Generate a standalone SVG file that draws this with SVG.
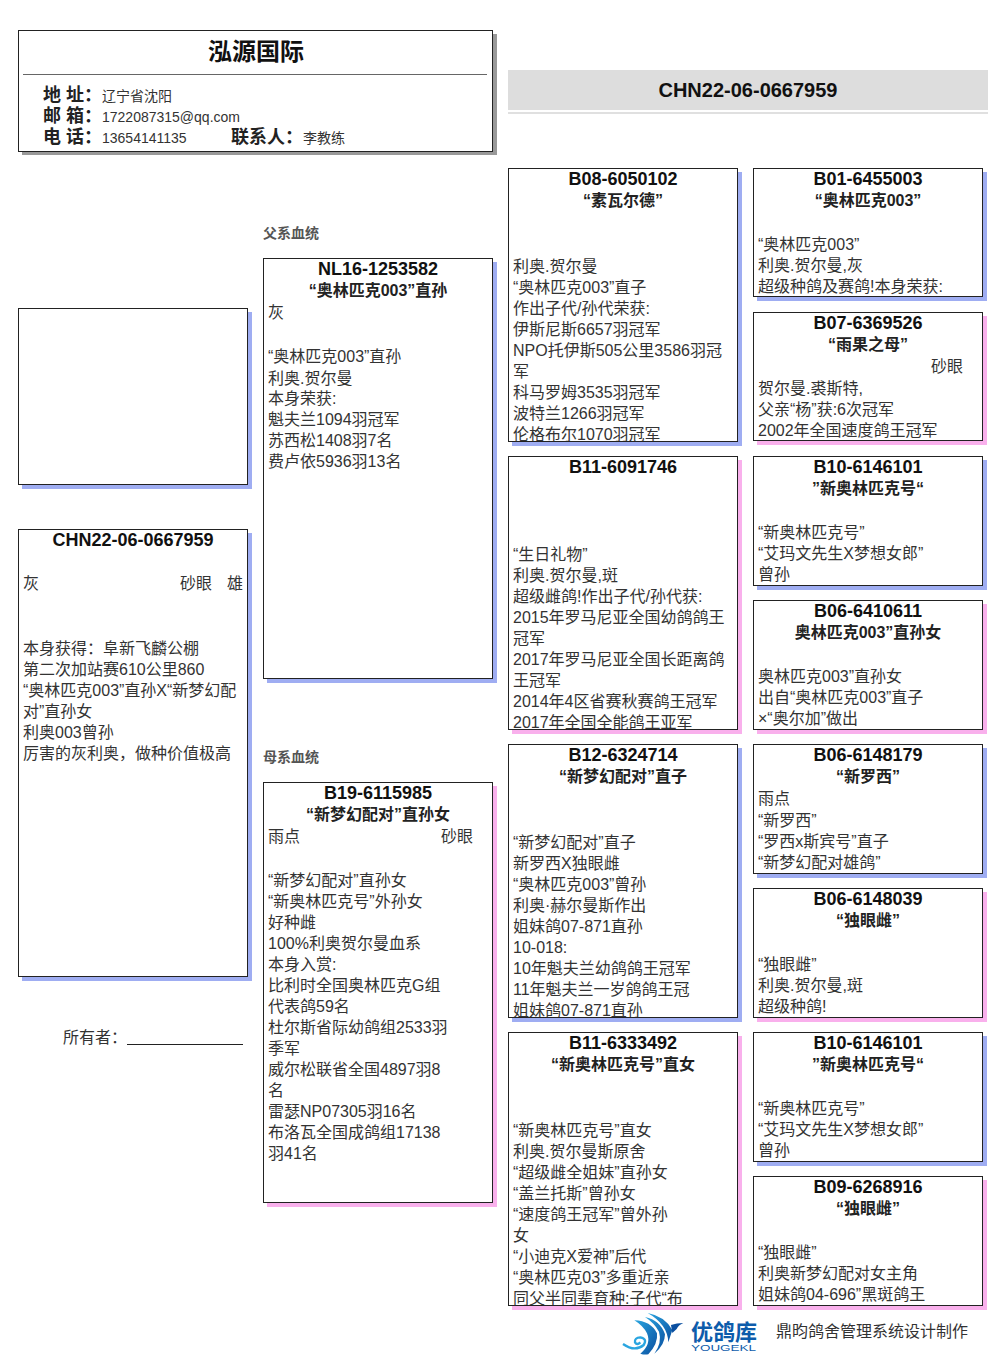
<svg xmlns="http://www.w3.org/2000/svg" width="1006" height="1366" viewBox="0 0 1006 1366">
<style>
text{font-family:"Liberation Sans","Noto Sans CJK SC",sans-serif;fill:#333;font-size:16px}
.t{font-weight:bold;fill:#111;text-anchor:middle;font-size:18px}
.q{font-weight:bold;fill:#222;text-anchor:middle;font-size:16px}
.l{font-weight:bold;fill:#222;font-size:18px}
.s{font-size:14px}
.h{font-size:14px;font-weight:bold;fill:#555}
.b{fill:#fff;stroke:#222;stroke-width:1}
.sb{fill:#9fadf2}.sp{fill:#f9b0ec}
</style>
<defs>
<linearGradient id="g" x1="0" y1="0" x2="1" y2="1"><stop offset="0" stop-color="#2aa5e0"/><stop offset="1" stop-color="#0a4fa0"/></linearGradient>
<clipPath id="c1"><rect x="508" y="168" width="230" height="273"/></clipPath>
<clipPath id="c2"><rect x="508" y="456" width="230" height="273"/></clipPath>
<clipPath id="c3"><rect x="508" y="744" width="230" height="273"/></clipPath>
<clipPath id="c4"><rect x="508" y="1032" width="230" height="273"/></clipPath>
</defs>
<rect width="1006" height="1366" fill="#fff"/>
<g id="header">
<rect x="22" y="34" width="475" height="121" fill="#999"/>
<rect class="b" x="18.500" y="30.500" width="474" height="121"/>
<line x1="23" y1="74.500" x2="487" y2="74.500" stroke="#666"/>
<text x="256" y="60" text-anchor="middle" style="font-size:24px;font-weight:bold;fill:#111">泓源国际</text>
<text class="l" x="43" y="101">地 址：</text><text class="s" x="102" y="101">辽宁省沈阳</text>
<text class="l" x="43" y="122">邮 箱：</text><text class="s" x="102" y="122">1722087315@qq.com</text>
<text class="l" x="43" y="143">电 话：</text><text class="s" x="102" y="143">13654141135</text>
<text class="l" x="231" y="143">联系人：</text><text class="s" x="303" y="143">李教练</text>
</g>
<g id="ring-title">
<rect x="508" y="70" width="480" height="40" fill="#ddd"/>
<rect x="508" y="112" width="480" height="2" fill="#e0e0e0"/>
<text class="t" x="748" y="97" style="font-size:20px">CHN22-06-0667959</text>
</g>
<text class="h" x="263" y="238">父系血统</text>
<text class="h" x="263" y="762">母系血统</text>
<g id="photo"><rect class="sb" x="22" y="312" width="230" height="177"/><rect class="b" x="18.500" y="308.500" width="229" height="176"/></g>
<g id="self"><rect class="sb" x="22" y="533" width="230" height="448"/><rect class="b" x="18.500" y="529.500" width="229" height="447"/>
<text class="t" x="133" y="546">CHN22-06-0667959</text>
<text x="23" y="589">灰</text><text x="180" y="589">砂眼</text><text x="227" y="589">雄</text>
<text x="23" y="654">本身获得：阜新飞麟公棚</text>
<text x="23" y="675">第二次加站赛610公里860</text>
<text x="23" y="696">“奥林匹克003”直孙X“新梦幻配</text>
<text x="23" y="717">对”直孙女</text>
<text x="23" y="738">利奥003曾孙</text>
<text x="23" y="759">厉害的灰利奥，做种价值极高</text>
</g>
<g id="owner"><text x="63" y="1043">所有者：</text><line x1="127" y1="1044.500" x2="243" y2="1044.500" stroke="#222"/></g>
<g id="nl16"><rect class="sb" x="267" y="262" width="230" height="421"/><rect class="b" x="263.500" y="258.500" width="229" height="420"/>
<text class="t" x="378" y="275">NL16-1253582</text><text class="q" x="378" y="296">“奥林匹克003”直孙</text>
<text x="268" y="318">灰</text>
<text x="268" y="362">“奥林匹克003”直孙</text><text x="268" y="384">利奥.贺尔曼</text><text x="268" y="404">本身荣获:</text>
<text x="268" y="425">魁夫兰1094羽冠军</text><text x="268" y="446">苏西松1408羽7名</text><text x="268" y="467">费卢依5936羽13名</text>
</g>
<g id="b19"><rect class="sp" x="267" y="786" width="230" height="421"/><rect class="b" x="263.500" y="782.500" width="229" height="420"/>
<text class="t" x="378" y="799">B19-6115985</text><text class="q" x="378" y="820">“新梦幻配对”直孙女</text>
<text x="268" y="842">雨点</text><text x="441" y="842">砂眼</text>
<text x="268" y="886">“新梦幻配对”直孙女</text><text x="268" y="907">“新奥林匹克号”外孙女</text><text x="268" y="928">好种雌</text>
<text x="268" y="949">100%利奥贺尔曼血系</text><text x="268" y="970">本身入赏:</text><text x="268" y="991">比利时全国奥林匹克G组</text>
<text x="268" y="1012">代表鸽59名</text><text x="268" y="1033">杜尔斯省际幼鸽组2533羽</text><text x="268" y="1054">季军</text>
<text x="268" y="1075">威尔松联省全国4897羽8</text><text x="268" y="1096">名</text><text x="268" y="1117">雷瑟NP07305羽16名</text>
<text x="268" y="1138">布洛瓦全国成鸽组17138</text><text x="268" y="1159">羽41名</text>
</g>
<g id="b08"><rect class="sb" x="512" y="172" width="230" height="274"/><rect class="b" x="508.500" y="168.500" width="229" height="273"/>
<text class="t" x="623" y="185">B08-6050102</text><text class="q" x="623" y="206">“素瓦尔德”</text>
<g clip-path="url(#c1)"><text x="513" y="272">利奥.贺尔曼</text><text x="513" y="293">“奥林匹克003”直子</text><text x="513" y="314">作出子代/孙代荣获:</text>
<text x="513" y="335">伊斯尼斯6657羽冠军</text><text x="513" y="356">NPO托伊斯505公里3586羽冠</text><text x="513" y="377">军</text>
<text x="513" y="398">科马罗姆3535羽冠军</text><text x="513" y="419">波特兰1266羽冠军</text><text x="513" y="440">伦格布尔1070羽冠军</text></g>
</g>
<g id="b11a"><rect class="sp" x="512" y="460" width="230" height="274"/><rect class="b" x="508.500" y="456.500" width="229" height="273"/>
<text class="t" x="623" y="473">B11-6091746</text>
<g clip-path="url(#c2)"><text x="513" y="560">“生日礼物”</text><text x="513" y="581">利奥.贺尔曼,斑</text><text x="513" y="602">超级雌鸽!作出子代/孙代获:</text>
<text x="513" y="623">2015年罗马尼亚全国幼鸽鸽王</text><text x="513" y="644">冠军</text><text x="513" y="665">2017年罗马尼亚全国长距离鸽</text>
<text x="513" y="686">王冠军</text><text x="513" y="707">2014年4区省赛秋赛鸽王冠军</text><text x="513" y="728">2017年全国全能鸽王亚军</text></g>
</g>
<g id="b12"><rect class="sb" x="512" y="748" width="230" height="274"/><rect class="b" x="508.500" y="744.500" width="229" height="273"/>
<text class="t" x="623" y="761">B12-6324714</text><text class="q" x="623" y="782">“新梦幻配对”直子</text>
<g clip-path="url(#c3)"><text x="513" y="848">“新梦幻配对”直子</text><text x="513" y="869">新罗西X独眼雌</text><text x="513" y="890">“奥林匹克003”曾孙</text>
<text x="513" y="911">利奥·赫尔曼斯作出</text><text x="513" y="932">姐妹鸽07-871直孙</text><text x="513" y="953">10-018:</text>
<text x="513" y="974">10年魁夫兰幼鸽鸽王冠军</text><text x="513" y="995">11年魁夫兰一岁鸽鸽王冠</text><text x="513" y="1016">姐妹鸽07-871直孙</text></g>
</g>
<g id="b11b"><rect class="sp" x="512" y="1036" width="230" height="274"/><rect class="b" x="508.500" y="1032.500" width="229" height="273"/>
<text class="t" x="623" y="1049">B11-6333492</text><text class="q" x="623" y="1070">“新奥林匹克号”直女</text>
<g clip-path="url(#c4)"><text x="513" y="1136">“新奥林匹克号”直女</text><text x="513" y="1157">利奥.贺尔曼斯原舍</text><text x="513" y="1178">“超级雌全姐妹”直孙女</text>
<text x="513" y="1199">“盖兰托斯”曾孙女</text><text x="513" y="1220">“速度鸽王冠军”曾外孙</text><text x="513" y="1241">女</text>
<text x="513" y="1262">“小迪克X爱神”后代</text><text x="513" y="1283">“奥林匹克03”多重近亲</text><text x="513" y="1304">同父半同辈育种:子代“布</text></g>
</g>
<g id="b01"><rect class="sb" x="757" y="172" width="230" height="129"/><rect class="b" x="753.500" y="168.500" width="229" height="128"/>
<text class="t" x="868" y="185">B01-6455003</text><text class="q" x="868" y="206">“奥林匹克003”</text>
<text x="758" y="250">“奥林匹克003”</text><text x="758" y="271">利奥.贺尔曼,灰</text><text x="758" y="292">超级种鸽及赛鸽!本身荣获:</text>
</g>
<g id="b07"><rect class="sp" x="757" y="316" width="230" height="129"/><rect class="b" x="753.500" y="312.500" width="229" height="128"/>
<text class="t" x="868" y="329">B07-6369526</text><text class="q" x="868" y="350">“雨果之母”</text>
<text x="931" y="372">砂眼</text><text x="758" y="394">贺尔曼.裘斯特,</text><text x="758" y="415">父亲“杨”获:6次冠军</text><text x="758" y="436">2002年全国速度鸽王冠军</text>
</g>
<g id="b10a"><rect class="sb" x="757" y="460" width="230" height="130"/><rect class="b" x="753.500" y="456.500" width="229" height="129"/>
<text class="t" x="868" y="473">B10-6146101</text><text class="q" x="868" y="494">”新奥林匹克号“</text>
<text x="758" y="538">“新奥林匹克号”</text><text x="758" y="559">“艾玛文先生X梦想女郎”</text><text x="758" y="580">曾孙</text>
</g>
<g id="b06a"><rect class="sp" x="757" y="604" width="230" height="130"/><rect class="b" x="753.500" y="600.500" width="229" height="129"/>
<text class="t" x="868" y="617">B06-6410611</text><text class="q" x="868" y="638">奥林匹克003”直孙女</text>
<text x="758" y="682">奥林匹克003”直孙女</text><text x="758" y="703">出自“奥林匹克003”直子</text><text x="758" y="724">×“奥尔加”做出</text>
</g>
<g id="b06b"><rect class="sb" x="757" y="748" width="230" height="130"/><rect class="b" x="753.500" y="744.500" width="229" height="129"/>
<text class="t" x="868" y="761">B06-6148179</text><text class="q" x="868" y="782">“新罗西”</text>
<text x="758" y="804">雨点</text><text x="758" y="826">“新罗西”</text><text x="758" y="847">“罗西x斯宾号”直子</text><text x="758" y="868">“新梦幻配对雄鸽”</text>
</g>
<g id="b06c"><rect class="sp" x="757" y="892" width="230" height="130"/><rect class="b" x="753.500" y="888.500" width="229" height="129"/>
<text class="t" x="868" y="905">B06-6148039</text><text class="q" x="868" y="926">“独眼雌”</text>
<text x="758" y="970">“独眼雌”</text><text x="758" y="991">利奥.贺尔曼,斑</text><text x="758" y="1012">超级种鸽!</text>
</g>
<g id="b10b"><rect class="sb" x="757" y="1036" width="230" height="130"/><rect class="b" x="753.500" y="1032.500" width="229" height="129"/>
<text class="t" x="868" y="1049">B10-6146101</text><text class="q" x="868" y="1070">”新奥林匹克号“</text>
<text x="758" y="1114">“新奥林匹克号”</text><text x="758" y="1135">“艾玛文先生X梦想女郎”</text><text x="758" y="1156">曾孙</text>
</g>
<g id="b09"><rect class="sp" x="757" y="1180" width="230" height="130"/><rect class="b" x="753.500" y="1176.500" width="229" height="129"/>
<text class="t" x="868" y="1193">B09-6268916</text><text class="q" x="868" y="1214">“独眼雌”</text>
<text x="758" y="1258">“独眼雌”</text><text x="758" y="1279">利奥新梦幻配对女主角</text><text x="758" y="1300">姐妹鸽04-696”黑斑鸽王</text>
</g>
<g id="logo">
<g transform="translate(615 1305) scale(.3333)">
<path d="M58 46Q108 48 126 85Q130 115 100 148Q88 150 76 146Q110 118 96 85Q84 62 58 46Z" fill="url(#g)"/>
<path d="M90 36Q136 46 150 88Q150 120 118 146Q142 112 132 80Q118 54 90 36Z" fill="url(#g)"/>
<path d="M98 24Q150 34 172 75L160 112Q158 58 98 24Z" fill="url(#g)"/>
<path d="M168 60Q185 54 205 54Q190 60 185 72L172 84Z" fill="#0a4fa0"/>
<path d="M24 117Q60 142 86 120Q98 102 76 97Q58 98 60 112Q66 122 76 112" fill="none" stroke="#2aa5e0" stroke-width="7"/>
</g>
<text x="691" y="1340" style="font-size:22px;font-weight:bold;fill:#0d5cab">优鸽库</text>
<text x="691" y="1350.500" textLength="65" lengthAdjust="spacingAndGlyphs" style="font-size:8.500px;fill:#0d5cab">YOUGEKL</text>
<text x="776" y="1337">鼎昀鸽舍管理系统设计制作</text>
</g>
</svg>
